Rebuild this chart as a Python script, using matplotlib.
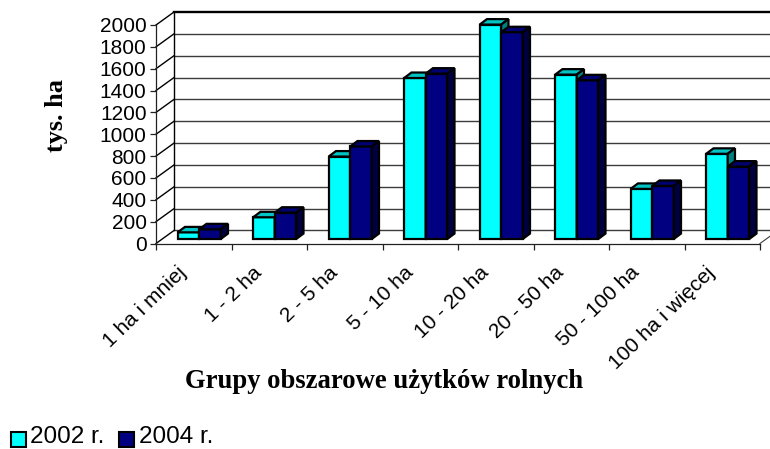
import numpy as np
import matplotlib
matplotlib.use("Agg")
import matplotlib.pyplot as plt
from matplotlib.patches import Rectangle

categories = ["1 ha i mniej", "1 - 2 ha", "2 - 5 ha", "5 - 10 ha", "10 - 20 ha",
              "20 - 50 ha", "50 - 100 ha", "100 ha i więcej"]
values_2002 = [61, 199, 755, 1474, 1963, 1505, 459, 780]
values_2004 = [89, 241, 847, 1514, 1893, 1453, 486, 663]
y_ticks = [0, 200, 400, 600, 800, 1000, 1200, 1400, 1600, 1800, 2000]

W, H = 770, 449

# 3d look, depth of the wall and of one bar in data units
wall_dx, wall_dy = 18 / 75.5, 119
bar_dx, bar_dy = 7.3 / 75.5, 50
bar_floor = 41
bar_start, bar_w = 0.287, 0.285
edge_w = 1.6


def draw_bar(ax, x, v, front, top, side):
    y = bar_floor + v
    ax.bar(x, v, bottom=bar_floor, width=bar_w, align="edge", color=front,
           edgecolor="black", linewidth=edge_w, zorder=3, clip_on=False)
    ax.fill([x, x + bar_dx, x + bar_w + bar_dx, x + bar_w],
            [y, y + bar_dy, y + bar_dy, y], facecolor=top, edgecolor="black",
            linewidth=edge_w, zorder=3, clip_on=False)
    ax.fill([x + bar_w, x + bar_w + bar_dx, x + bar_w + bar_dx, x + bar_w],
            [bar_floor, bar_floor + bar_dy, y + bar_dy, y], facecolor=side, edgecolor="black",
            linewidth=edge_w, zorder=3, clip_on=False)


plt.rcParams["font.family"] = ["Liberation Sans", "DejaVu Sans"]
fig = plt.figure(figsize=(W / 100, H / 100), dpi=100)
ax = fig.add_axes([156 / W, 1 - 243.5 / H, (760 - 156) / W, (243.5 - 25) / H])
ax.set_xlim(0, len(categories))
ax.set_ylim(0, 2000)
ax.patch.set_visible(False)

# back wall, gridlines run over the side wall and then to the right
right = len(categories) + wall_dx
for v in y_ticks:
    top_line = v == y_ticks[-1]
    ax.plot([0, wall_dx], [v, v + wall_dy], color="black", lw=1.0, zorder=1, clip_on=False)
    ax.plot([wall_dx, right], [v + wall_dy, v + wall_dy], color="black" if top_line else "#3c3c3c",
            lw=1.7 if top_line else 1.0, zorder=1, clip_on=False)
ax.plot([wall_dx, wall_dx], [0 + wall_dy, 2000 + wall_dy], color="black", lw=1.0, zorder=1, clip_on=False)
ax.plot([len(categories), right], [0, wall_dy], color="#3c3c3c", lw=0.8, zorder=1, clip_on=False)

for i in range(len(categories)):
    x = i + bar_start
    draw_bar(ax, x, values_2002[i], "#00ffff", "#00c4c4", "#008080")
    draw_bar(ax, x + bar_w, values_2004[i], "#000080", "#000070", "#000040")

for name in ["top", "right"]:
    ax.spines[name].set_visible(False)
for name in ["left", "bottom"]:
    ax.spines[name].set_linewidth(0.9)
    ax.spines[name].set_color("#222222")

ax.set_yticks(y_ticks)
ax.tick_params(axis="y", length=4.3, width=0.9, labelsize=15, pad=2.5, color="#222222")
ax.set_xticks(np.arange(len(categories) + 1), minor=True)
ax.set_xticks(np.arange(len(categories)) + 0.28)
ax.set_xticklabels(categories, rotation=44, ha="right", va="top", rotation_mode="anchor", fontsize=15)
ax.tick_params(axis="x", which="major", length=0, pad=14)
ax.tick_params(axis="x", which="minor", length=4.3, width=0.9, color="#222222")

fig.text(57 / W, 1 - 115 / H, "tys. ha", rotation=90, ha="center", va="center",
         family=["Liberation Serif"], fontweight="bold", fontsize=18.9)
fig.text(384 / W, 1 - 382 / H, "Grupy obszarowe użytków rolnych", ha="center", va="center",
         family=["Liberation Serif"], fontweight="bold", fontsize=19.2)

# legend
for px, color in [(11, "#00ffff"), (119, "#000080")]:
    fig.add_artist(Rectangle((px / W, 1 - 446.5 / H), 15 / W, 15 / H, transform=fig.transFigure,
                             facecolor=color, edgecolor="black", linewidth=1.5))
fig.text(30 / W, 1 - 437 / H, "2002 r.", ha="left", va="center", fontsize=17.5)
fig.text(139 / W, 1 - 437 / H, "2004 r.", ha="left", va="center", fontsize=17.5)

fig.savefig("out.png", dpi=100)
